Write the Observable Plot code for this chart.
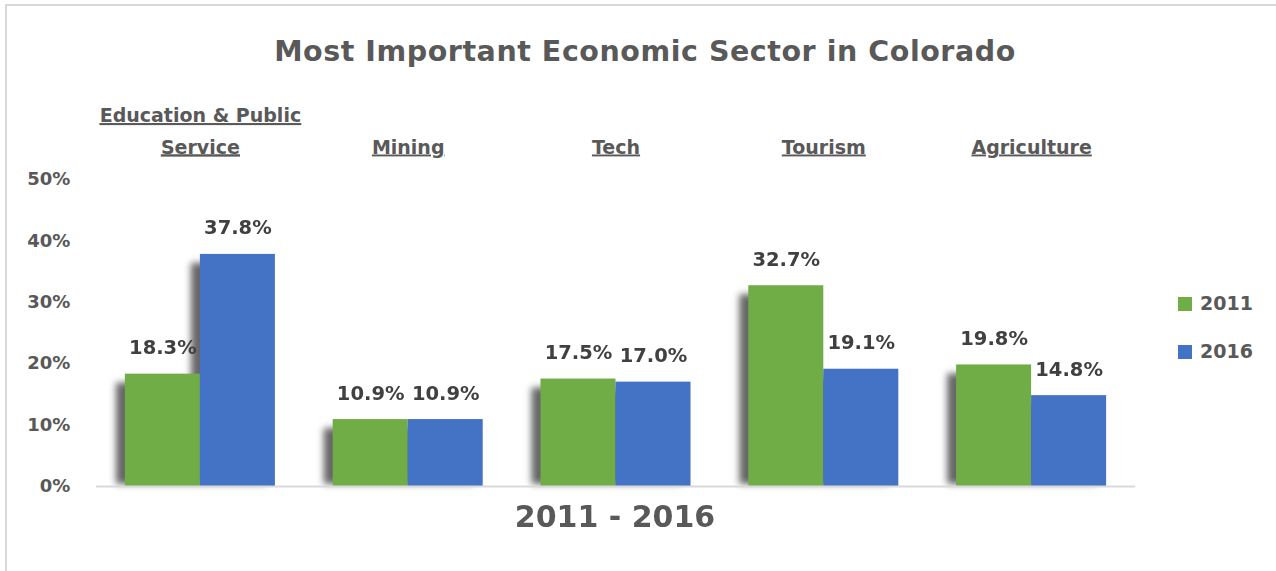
<!DOCTYPE html>
<html>
<head>
<meta charset="utf-8">
<script src="https://cdn.jsdelivr.net/npm/d3@7"></script>
<script src="https://cdn.jsdelivr.net/npm/@observablehq/plot@0.6"></script>
<style>
  html, body { margin: 0; padding: 0; background: #fff; }
  #wrap { position: relative; width: 1276px; height: 571px; overflow: hidden; font-family: "DejaVu Sans", sans-serif; }
  #frame { position: absolute; left: 5px; top: 4px; width: 1280px; height: 580px; border-top: 2px solid #d9d9d9; border-left: 2px solid #d9d9d9; box-sizing: border-box; }
  #title { position: absolute; left: 0; width: 1290px; top: 38px; text-align: center; font-size: 28.5px; line-height: 28.5px; font-weight: bold; letter-spacing: 0.55px; color: #595959; white-space: nowrap; }
  #xtitle { position: absolute; left: 0; width: 1230px; top: 502px; text-align: center; font-size: 30px; line-height: 30px; font-weight: bold; color: #595959; white-space: nowrap; }
  .leg { position: absolute; left: 1178px; font-size: 19px; line-height: 19px; font-weight: bold; color: #595959; white-space: nowrap; }
  .leg .sw { position: absolute; left: 0; width: 14px; height: 14px; }
  .leg .lt { position: absolute; left: 22px; top: -3px; }
  #chart { position: absolute; left: 0; top: 0; }
  g[aria-description="category"] text, g[aria-description="category"] tspan { text-decoration: underline; }
  g[aria-description="shadow"] { filter: blur(2.5px); }
  g[aria-label="y-axis tick label"] text { font-size: 18px; font-weight: bold; fill: #595959; }
</style>
</head>
<body>
<div id="wrap">
  <div id="frame"></div>
  <div id="title"></div>
  <div id="chart"></div>
  <div id="xtitle"></div>
</div>
<script>
const chartTitle = "Most Important Economic Sector in Colorado";
const axisTitle = "2011 - 2016";
const sectors = ["Education & Public Service", "Mining", "Tech", "Tourism", "Agriculture"];
const sectorLabels = ["Education & Public\nService", "Mining", "Tech", "Tourism", "Agriculture"];
const years = ["2011", "2016"];
const values2011 = [18.3, 10.9, 17.5, 32.7, 19.8];
const values2016 = [37.8, 10.9, 17.0, 19.1, 14.8];
const yTicks = [0, 10, 20, 30, 40, 50];
const colors = ["#70AD47", "#4472C4"];

const data = [];
sectors.forEach((s, i) => {
  data.push({sector: s, year: years[0], value: values2011[i]});
  data.push({sector: s, year: years[1], value: values2016[i]});
});
const labelOf = new Map(sectors.map((s, i) => [s, sectorLabels[i]]));

document.getElementById("title").textContent = chartTitle;
document.getElementById("xtitle").textContent = axisTitle;

const chart = Plot.plot({
  width: 1276,
  height: 571,
  marginLeft: 96,
  marginRight: 141,
  marginTop: 179,
  marginBottom: 85,
  style: {fontFamily: "'DejaVu Sans', sans-serif", fontSize: "18px", color: "#595959", background: "transparent", overflow: "visible"},
  fx: {domain: sectors, paddingInner: 0.278, paddingOuter: 0.139, round: false, axis: null, label: null},
  x: {domain: years, padding: 0, round: false, axis: null, label: null},
  y: {domain: [0, 50], ticks: yTicks, tickFormat: d => d + "%", tickSize: 0, tickPadding: 55, label: null},
  color: {domain: years, range: colors},
  marks: [
    Plot.barY(data, {fx: "sector", x: "year", y: "value", fill: "#000", fillOpacity: 0.6, dx: -9, insetTop: 9, insetBottom: 2, ariaDescription: "shadow"}),
    Plot.barY(data, {fx: "sector", x: "year", y: "value", fill: "year"}),
    Plot.ruleY([0], {stroke: "#d9d9d9", strokeWidth: 2, insetLeft: -29, insetRight: -29}),
    Plot.text(data, {fx: "sector", x: "year", y: "value", text: d => d.value.toFixed(1) + "%", dy: -20, lineAnchor: "bottom", fontSize: 19.5, fontWeight: "bold", fill: "#404040"}),
    Plot.text(sectors, {fx: d => d, text: d => labelOf.get(d), frameAnchor: "top", dy: -26, lineAnchor: "bottom", lineHeight: 1.65, fontSize: 19, fontWeight: "bold", fill: "#595959", ariaDescription: "category"})
  ]
});
document.getElementById("chart").appendChild(chart);
// fallbacks in case the description attribute is not where the CSS expects it
chart.querySelectorAll('[fill-opacity="0.6"]').forEach(g => g.style.filter = "blur(2.5px)");
chart.querySelectorAll('[aria-description="category"] text, [aria-description="category"] tspan').forEach(t => t.style.textDecoration = "underline");

const wrap = document.getElementById("wrap");
const legTops = [297, 345];
years.forEach((y, i) => {
  const item = document.createElement("div");
  item.className = "leg";
  item.style.top = legTops[i] + "px";
  const sw = document.createElement("div");
  sw.className = "sw";
  sw.style.background = colors[i];
  const lt = document.createElement("div");
  lt.className = "lt";
  lt.textContent = y;
  item.appendChild(sw);
  item.appendChild(lt);
  wrap.appendChild(item);
});
</script>
</body>
</html>
